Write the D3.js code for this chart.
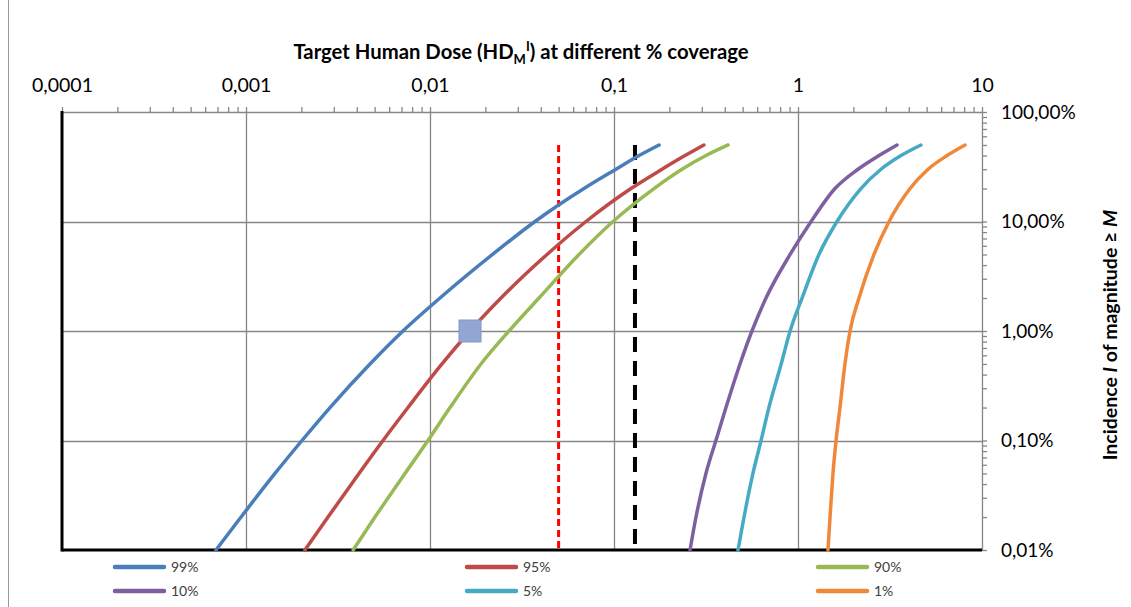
<!DOCTYPE html>
<html>
<head>
<meta charset="utf-8">
<script src="https://cdn.jsdelivr.net/npm/d3@7"></script>
<style>
  html, body { margin: 0; padding: 0; background: #fff; }
  svg { display: block; }
  text { font-family: Lato, "Open Sans", sans-serif; }
</style>
</head>
<body>
<svg id="chart" width="1131" height="607"></svg>
<script>
// Incidence levels (%) at which each coverage curve is tabulated
const incidence = [0.01, 0.02, 0.05, 0.1, 0.2, 0.5, 1, 2, 5, 10, 20, 30, 40, 50];

// Target human dose for each coverage level
const dose99 = [0.000687, 0.00094, 0.001437, 0.002015, 0.002861, 0.00472, 0.00713, 0.01133, 0.02186, 0.03722, 0.06871, 0.1025, 0.1368, 0.176];
const dose95 = [0.00209, 0.002791, 0.004113, 0.005554, 0.007593, 0.01162, 0.0165, 0.02431, 0.04325, 0.07044, 0.1237, 0.1823, 0.2431, 0.308];
const dose90 = [0.003822, 0.005023, 0.007311, 0.00975, 0.01285, 0.01892, 0.02687, 0.03912, 0.06455, 0.09876, 0.165, 0.2343, 0.3162, 0.417];
const dose10 = [0.259, 0.279, 0.316, 0.358, 0.406, 0.484, 0.562, 0.670, 0.906, 1.178, 1.589, 2.118, 2.754, 3.452];
const dose5  = [0.472, 0.509, 0.569, 0.630, 0.695, 0.810, 0.906, 1.052, 1.300, 1.629, 2.198, 2.825, 3.631, 4.656];
const dose1  = [1.455, 1.493, 1.549, 1.610, 1.691, 1.799, 1.917, 2.145, 2.588, 3.126, 4.064, 5.093, 6.457, 8.091];

const seriesNames = ["99%", "95%", "90%", "10%", "5%", "1%"];
const seriesColors = ["#4A7EBB", "#BE4B48", "#98B954", "#7D60A0", "#46AAC5", "#F0883A"];
const seriesDoses = [dose99, dose95, dose90, dose10, dose5, dose1];

// Reference dose lines (vertical) and highlighted point
const refLineDoses = [0.05, 0.13];
const refLineTop = 50; // %
const markerPoint = { dose: 0.0165, pct: 1 };

// Axis tick values and labels
const xMajor = [0.0001, 0.001, 0.01, 0.1, 1, 10];
const xTickLabels = ["0,0001", "0,001", "0,01", "0,1", "1", "10"];
const yMajor = [0.01, 0.1, 1, 10, 100];
const yTickLabels = ["0,01%", "0,10%", "1,00%", "10,00%", "100,00%"];

const svg = d3.select("#chart");
const plotL = 62, plotR = 982, plotT = 112, plotB = 550;

const x = d3.scaleLog().domain([1e-4, 10]).range([plotL, plotR]);
const y = d3.scaleLog().domain([0.01, 100]).range([plotB, plotT]);

const grid = "#868686";

// outer frame edge
svg.append("line").attr("x1", 8.5).attr("x2", 8.5).attr("y1", 0).attr("y2", 607)
  .attr("stroke", "#9a9a9a").attr("stroke-width", 1);

// minor tick values for log axes
const minorTicks = (lo, hi) => {
  const out = [];
  for (let e = Math.round(Math.log10(lo)); e < Math.round(Math.log10(hi)); e++) {
    for (let m = 1; m <= 9; m++) out.push(m * Math.pow(10, e));
  }
  out.push(hi);
  return out;
};

// gridlines
svg.append("g").selectAll("line").data(xMajor.slice(1, -1)).join("line")
  .attr("x1", d => Math.round(x(d)) + 0.5).attr("x2", d => Math.round(x(d)) + 0.5)
  .attr("y1", plotT).attr("y2", plotB)
  .attr("stroke", grid).attr("stroke-width", 1.3);
svg.append("g").selectAll("line").data(yMajor.slice(1, -1)).join("line")
  .attr("y1", d => Math.round(y(d)) + 0.5).attr("y2", d => Math.round(y(d)) + 0.5)
  .attr("x1", plotL).attr("x2", plotR)
  .attr("stroke", grid).attr("stroke-width", 1.3);

// top dose axis (ticks only)
const topAxis = svg.append("g").attr("transform", `translate(0,${plotT})`)
  .call(d3.axisTop(x).tickValues(minorTicks(1e-4, 10)).tickSize(5).tickSizeOuter(0).tickFormat(""));
topAxis.selectAll("path, line").attr("stroke", grid).attr("stroke-width", 1.3);

// top dose axis labels
const topLabels = svg.append("g").attr("transform", `translate(0,${plotT})`)
  .call(d3.axisTop(x).tickValues(xMajor).tickSize(0).tickPadding(20)
    .tickFormat((d, i) => xTickLabels[i]));
topLabels.select(".domain").remove();
topLabels.selectAll("text").attr("font-family", "Lato, sans-serif").attr("font-size", 19.5).attr("fill", "#000");

// right incidence axis
const rightAxis = svg.append("g").attr("transform", `translate(${plotR},0)`)
  .call(d3.axisRight(y).tickValues(minorTicks(0.01, 100)).tickSize(5).tickSizeOuter(0).tickFormat(""));
rightAxis.selectAll("path, line").attr("stroke", grid).attr("stroke-width", 1.3);

const rightLabels = svg.append("g").attr("transform", `translate(${plotR},0)`)
  .call(d3.axisRight(y).tickValues(yMajor).tickSize(0).tickPadding(19)
    .tickFormat((d, i) => yTickLabels[i]));
rightLabels.select(".domain").remove();
rightLabels.selectAll("text").attr("font-family", "Lato, sans-serif").attr("font-size", 19).attr("fill", "#000");

// heavy left and bottom frame
svg.append("line").attr("x1", plotL).attr("x2", plotL).attr("y1", plotT - 1).attr("y2", plotB + 1.5)
  .attr("stroke", "#000").attr("stroke-width", 3);
svg.append("line").attr("x1", plotL).attr("x2", plotR).attr("y1", plotB).attr("y2", plotB)
  .attr("stroke", "#000").attr("stroke-width", 3);

// reference dose lines
const refColors = ["#FF0000", "#000000"];
const refDash = ["7,4", "15,9"];
const refWidth = [3, 4];
refLineDoses.forEach((d, i) => {
  svg.append("line")
    .attr("x1", x(d)).attr("x2", x(d))
    .attr("y1", y(refLineTop)).attr("y2", plotB)
    .attr("stroke", refColors[i]).attr("stroke-width", refWidth[i])
    .attr("stroke-dasharray", refDash[i]);
});

// coverage curves (dose rises monotonically with incidence)
const line = d3.line().x(d => x(d[0])).y(d => y(d[1])).curve(d3.curveMonotoneX);
seriesDoses.forEach((doses, i) => {
  svg.append("path")
    .datum(doses.map((d, k) => [d, incidence[k]]))
    .attr("d", line)
    .attr("fill", "none")
    .attr("stroke", seriesColors[i])
    .attr("stroke-width", 3.5)
    .attr("stroke-linecap", "round")
    .attr("stroke-linejoin", "round");
});

// highlighted point
svg.append("rect")
  .attr("x", x(markerPoint.dose) - 11).attr("y", y(markerPoint.pct) - 11)
  .attr("width", 22).attr("height", 22)
  .attr("fill", "#91A6D3").attr("stroke", "#8497C6").attr("stroke-width", 1);

// title
const title = svg.append("text")
  .attr("x", 521).attr("y", 59)
  .attr("text-anchor", "middle")
  .attr("font-weight", "bold").attr("font-size", 20.3).attr("fill", "#000");
title.append("tspan").text("Target Human Dose (HD");
title.append("tspan").attr("font-size", 13).attr("dy", 5).text("M");
title.append("tspan").attr("font-size", 13).attr("dy", -13).text("I");
title.append("tspan").attr("dy", 8).text(") at different % coverage");

// right axis title
const ytitle = svg.append("text")
  .attr("transform", "translate(1117,335) rotate(-90)")
  .attr("text-anchor", "middle")
  .attr("font-weight", "bold").attr("font-size", 19.5).attr("fill", "#000");
ytitle.append("tspan").text("Incidence ");
ytitle.append("tspan").attr("font-style", "italic").text("I");
ytitle.append("tspan").text(" of magnitude ≥ ");
ytitle.append("tspan").attr("font-style", "italic").text("M");

// legend
const legendCols = [113, 465, 816];
const legendRows = [567, 591];
const legend = svg.append("g");
seriesNames.forEach((name, i) => {
  const lx = legendCols[i % 3], ly = legendRows[Math.floor(i / 3)];
  legend.append("line")
    .attr("x1", lx + 2).attr("x2", lx + 51).attr("y1", ly).attr("y2", ly)
    .attr("stroke", seriesColors[i]).attr("stroke-width", 4.5).attr("stroke-linecap", "round");
  legend.append("text")
    .attr("x", lx + 58).attr("y", ly + 5)
    .attr("font-size", 14).attr("fill", "#404040")
    .text(name);
});
</script>
</body>
</html>
